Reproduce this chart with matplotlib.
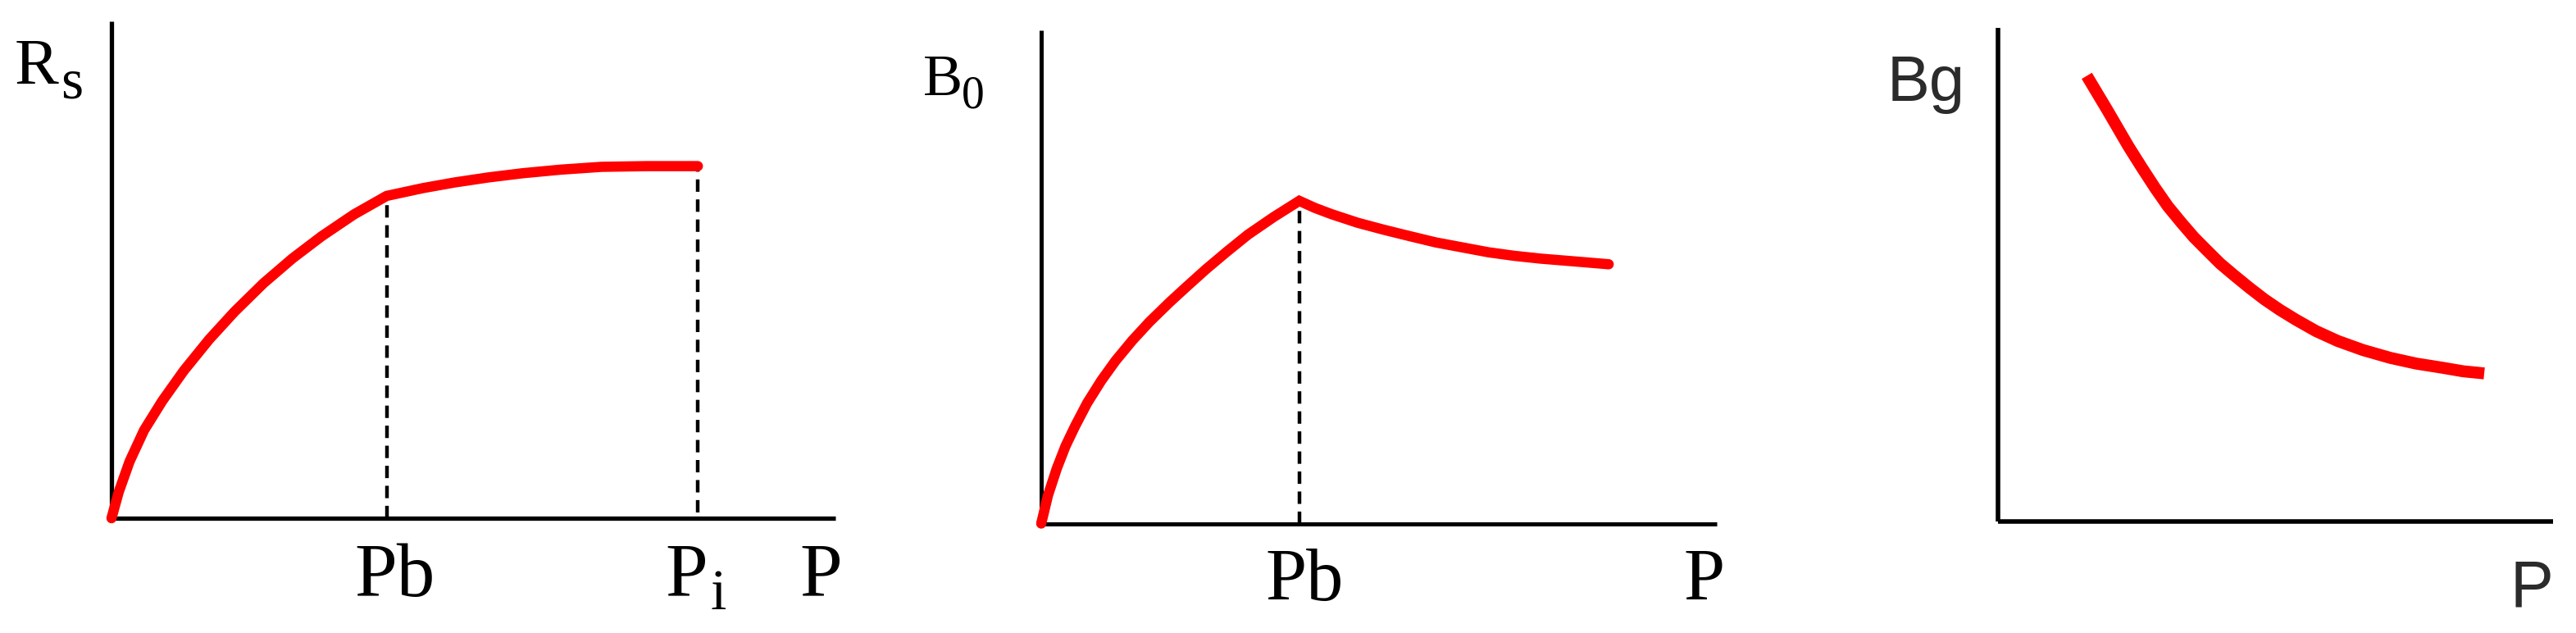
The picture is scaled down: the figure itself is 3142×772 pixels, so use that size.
import matplotlib
matplotlib.use("Agg")
import matplotlib.pyplot as plt

W, H = 3142, 772

# Rs vs P (solution gas-oil ratio)
rs_p = [0, 0.10, 0.25, 0.45, 0.70, 1.00, 1.35, 1.70, 2.10, 2.50, 2.90, 3.35, 3.80,
        4.30, 4.74, 5.20, 5.68, 6.20, 6.77, 7.40, 8.10]
rs_val = [0, 0.37, 0.80, 1.24, 1.65, 2.08, 2.52, 2.91, 3.31, 3.66, 3.97, 4.28, 4.54,
          4.65, 4.73, 4.80, 4.86, 4.91, 4.95, 4.96, 4.96]
rs_pb = 3.80
rs_pi = 8.10

# Bo vs P (oil formation volume factor)
bo_p = [0, 0.10, 0.23, 0.36, 0.50, 0.68, 0.89, 1.10, 1.35, 1.60, 1.90, 2.15, 2.44,
        2.75, 3.06, 3.44, 3.82,
        4.05, 4.30, 4.68, 5.07, 5.45, 5.84, 6.23, 6.62, 7.00, 7.39, 7.90, 8.40]
bo_val = [0, 0.40, 0.78, 1.10, 1.38, 1.71, 2.03, 2.31, 2.60, 2.86, 3.14, 3.36, 3.61,
          3.86, 4.10, 4.35, 4.58,
          4.48, 4.39, 4.27, 4.17, 4.08, 3.99, 3.92, 3.85, 3.80, 3.76, 3.72, 3.68]
bo_pb = 3.82

# Bg vs P (gas formation volume factor)
bg_p = [1.60, 1.98, 2.35, 2.59, 2.83, 3.06, 3.30, 3.53, 3.77, 4.00, 4.24, 4.52,
        4.80, 5.08, 5.37, 5.73, 6.12, 6.58, 7.07, 7.53, 8.01, 8.38, 8.76]
bg_val = [6.32, 5.82, 5.32, 5.02, 4.73, 4.47, 4.24, 4.03, 3.84, 3.66, 3.50, 3.32,
          3.15, 3.00, 2.86, 2.70, 2.56, 2.43, 2.32, 2.24, 2.18, 2.13, 2.10]

RED = "#ff0000"
SERIF = "Liberation Serif"
SANS = "Liberation Sans"


def box(x0, y0, x1, y1):
    # pixel box (top-left origin) -> figure fraction rect
    return [x0 / W, 1 - y1 / H, (x1 - x0) / W, (y1 - y0) / H]


def px(x, y):
    return x / W, 1 - y / H


def bare_axes(rect, lw):
    ax = fig.add_axes(rect)
    ax.set_xlim(0, 10)
    ax.set_ylim(0, 7)
    for s in ["top", "right"]:
        ax.spines[s].set_visible(False)
    for s in ["left", "bottom"]:
        ax.spines[s].set_linewidth(lw)
        ax.spines[s].set_color("black")
        ax.spines[s].set_capstyle("butt")
    ax.set_xticks([])
    ax.set_yticks([])
    ax.patch.set_alpha(0)
    return ax


fig = plt.figure(figsize=(W / 100, H / 100), dpi=100)
fig.patch.set_facecolor("white")

dash = (0, (3.4, 2.1))

# ---- panel 1: Rs ----
ax1 = bare_axes(box(136, 26, 1019, 632), 3.8)
ax1.plot(rs_p, rs_val, color=RED, lw=9, solid_joinstyle="round",
         solid_capstyle="round", clip_on=False, zorder=3)
ax1.vlines(rs_pb, 0, rs_val[rs_p.index(rs_pb)], colors="black", lw=3.2,
           linestyles=dash, zorder=2)
ax1.vlines(rs_pi, 0.08, rs_val[rs_p.index(rs_pi)], colors="black", lw=3.2,
           linestyles=dash, zorder=2)

fig.text(*px(18, 102.7), "R", family=SERIF, fontsize=58, ha="left", va="baseline")
fig.text(*px(74, 120), "s", family=SERIF, fontsize=50, ha="left", va="baseline")
fig.text(*px(481, 726.7), "Pb", family=SERIF, fontsize=67, ha="center", va="baseline")
fig.text(*px(811.7, 726.7), "P", family=SERIF, fontsize=67, ha="left", va="baseline")
fig.text(*px(867, 742.7), "i", family=SERIF, fontsize=50, ha="left", va="baseline")
fig.text(*px(975, 726.7), "P", family=SERIF, fontsize=67, ha="left", va="baseline")

# ---- panel 2: Bo ----
ax2 = bare_axes(box(1270, 37, 2094, 638.5), 3.6)
ax2.plot(bo_p, bo_val, color=RED, lw=9, solid_joinstyle="miter",
         solid_capstyle="round", clip_on=False, zorder=3)
ax2.vlines(bo_pb, 0, bo_val[bo_p.index(bo_pb)], colors="black", lw=3.2,
           linestyles=dash, zorder=2)

fig.text(*px(1126, 116), "B", family=SERIF, fontsize=52, ha="left", va="baseline")
fig.text(*px(1173, 131), "0", family=SERIF, fontsize=40, ha="left", va="baseline")
fig.text(*px(1591, 732), "Pb", family=SERIF, fontsize=65, ha="center", va="baseline")
fig.text(*px(2053, 732), "P", family=SERIF, fontsize=65, ha="left", va="baseline")

# ---- panel 3: Bg ----
ax3 = bare_axes(box(2437, 34, 3114, 636), 4.0)
ax3.plot(bg_p, bg_val, color=RED, lw=10.5, solid_joinstyle="round",
         solid_capstyle="butt", clip_on=False, zorder=3)

fig.text(*px(2301.7, 122.7), "Bg", family=SANS, fontsize=56, color="#2b2b2b",
         ha="left", va="baseline")
fig.text(*px(3061.7, 739), "P", family=SANS, fontsize=57, color="#2b2b2b",
         ha="left", va="baseline")

fig.savefig("out.png", dpi=100, facecolor="white")
